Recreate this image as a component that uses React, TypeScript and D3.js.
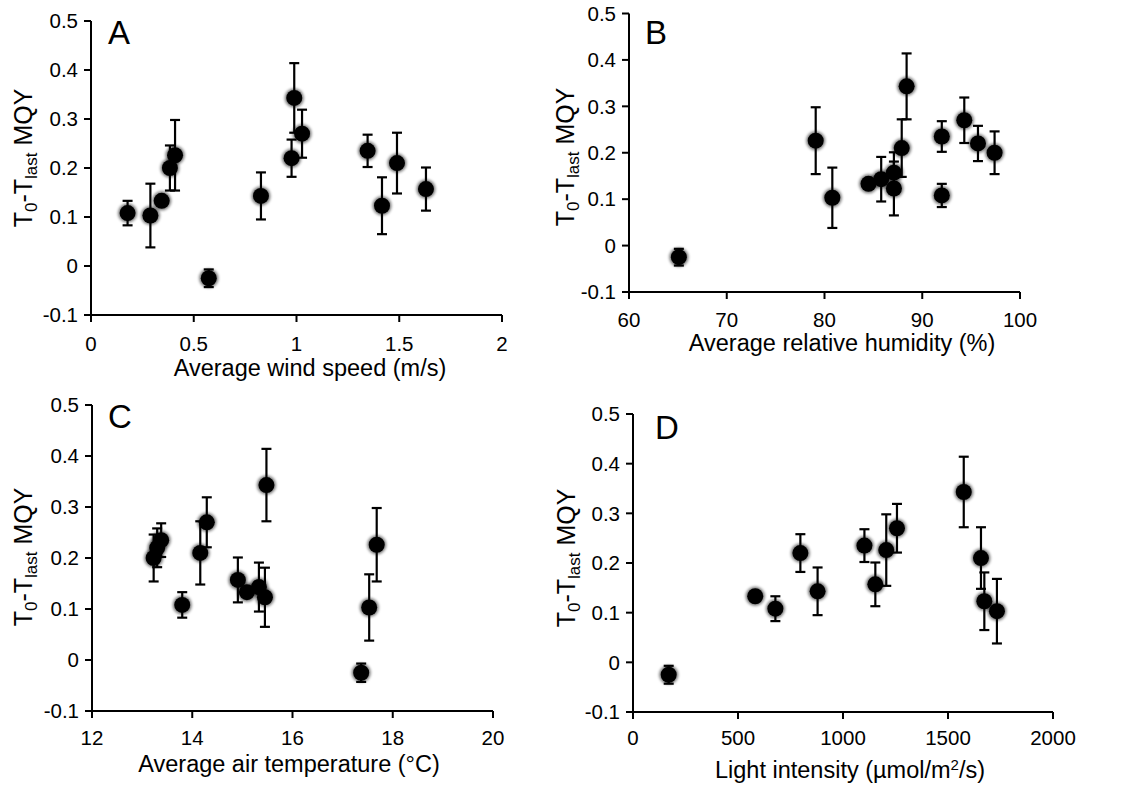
import * as d3 from "d3";

// T0 - Tlast MQY per site, with its error (shared by all four panels)
const mqy = [0.108, 0.103, 0.133, 0.2, 0.226, -0.025, 0.143, 0.343, 0.22, 0.27, 0.235, 0.123, 0.21, 0.157];
const mqyErr = [0.025, 0.065, 0.008, 0.046, 0.072, 0.018, 0.048, 0.071, 0.038, 0.049, 0.033, 0.058, 0.062, 0.044];

// environmental variables for the same sites
const windSpeed = [0.178, 0.289, 0.344, 0.384, 0.409, 0.573, 0.827, 0.989, 0.976, 1.027, 1.346, 1.416, 1.489, 1.63];
const humidity = [92.0, 80.8, 84.5, 97.4, 79.1, 65.1, 85.8, 88.4, 95.7, 94.3, 92.0, 87.1, 87.9, 87.1];
const airTemp = [13.8, 17.53, 15.09, 13.23, 17.68, 17.37, 15.33, 15.48, 13.3, 14.29, 13.38, 15.45, 14.16, 14.91];
const lightIntensity: (number | null)[] = [678, 1733, 582, null, 1206, 170, 879, 1575, 797, 1257, 1102, 1673, 1657, 1154];

const yTicks = [-0.1, 0, 0.1, 0.2, 0.3, 0.4, 0.5];
const yTickLabels = ["-0.1", "0", "0.1", "0.2", "0.3", "0.4", "0.5"];
const windTicks = [0, 0.5, 1, 1.5, 2];
const humidityTicks = [60, 70, 80, 90, 100];
const tempTicks = [12, 14, 16, 18, 20];
const lightTicks = [0, 500, 1000, 1500, 2000];

const FONT = "'Liberation Sans', Arial, Helvetica, sans-serif";

type PanelProps = {
  letter: string;
  xs: (number | null)[];
  xDomain: [number, number];
  xTicks: number[];
  title: React.ReactNode;
  box: { left: number; right: number; top: number; bottom: number };
  titleX: number;
  titleDy: number;
  tickDy: number;
  yTitleX: number;
  yTitleY: number;
  letterX: number;
  letterY: number;
};

function Panel(p: PanelProps) {
  const { box } = p;
  const x = d3.scaleLinear().domain(p.xDomain).range([box.left, box.right]);
  const y = d3.scaleLinear().domain([-0.1, 0.5]).range([box.bottom, box.top]);
  const pts = p.xs
    .map((v, i) => ({ x: v, y: mqy[i], e: mqyErr[i] }))
    .filter((d) => d.x !== null) as { x: number; y: number; e: number }[];

  return (
    <g>
      {/* axes */}
      <line x1={box.left} x2={box.left} y1={box.top} y2={box.bottom + 1} stroke="#000" strokeWidth={2} />
      <line x1={box.left - 1} x2={box.right} y1={box.bottom} y2={box.bottom} stroke="#000" strokeWidth={2} />
      {yTicks.map((t, i) => (
        <g key={"y" + i}>
          <line x1={box.left - 7} x2={box.left} y1={y(t)} y2={y(t)} stroke="#000" strokeWidth={2} />
          <text x={box.left - 13} y={y(t)} dy="0.35em" textAnchor="end" fontSize={20.5} fontFamily={FONT}>
            {yTickLabels[i]}
          </text>
        </g>
      ))}
      {p.xTicks.map((t) => (
        <g key={"x" + t}>
          <line x1={x(t)} x2={x(t)} y1={box.bottom} y2={box.bottom + 7} stroke="#000" strokeWidth={2} />
          <text x={x(t)} y={box.bottom + p.tickDy} textAnchor="middle" fontSize={20.5} fontFamily={FONT}>
            {t}
          </text>
        </g>
      ))}
      <text x={p.titleX} y={box.bottom + p.titleDy} textAnchor="middle" fontSize={23.5} fontFamily={FONT}>
        {p.title}
      </text>
      <text
        transform={`translate(${p.yTitleX},${p.yTitleY}) rotate(-90)`}
        textAnchor="middle"
        fontSize={25}
        fontFamily={FONT}
      >
        T<tspan fontSize={17} dy={5}>0</tspan>
        <tspan dy={-5}>-T</tspan>
        <tspan fontSize={17} dy={5}>last</tspan>
        <tspan dy={-5}> MQY</tspan>
      </text>
      <text x={p.letterX} y={p.letterY} fontSize={33} fontFamily={FONT}>
        {p.letter}
      </text>
      {/* markers */}
      {pts.map((d, i) => (
        <g key={"m" + i}>
          <circle cx={x(d.x)} cy={y(d.y)} r={9.5} fill="#000" opacity={0.55} filter="url(#soft)" />
          <circle cx={x(d.x)} cy={y(d.y)} r={8} fill="#000" />
        </g>
      ))}
      {/* error bars */}
      {pts.map((d, i) => (
        <g key={"e" + i} stroke="#000" strokeWidth={2.2}>
          <line x1={x(d.x)} x2={x(d.x)} y1={y(d.y + d.e)} y2={y(d.y - d.e)} />
          <line x1={x(d.x) - 5} x2={x(d.x) + 5} y1={y(d.y + d.e)} y2={y(d.y + d.e)} />
          <line x1={x(d.x) - 5} x2={x(d.x) + 5} y1={y(d.y - d.e)} y2={y(d.y - d.e)} />
        </g>
      ))}
    </g>
  );
}

export default function App() {
  return (
    <svg
      width={1146}
      height={789}
      style={{ position: "absolute", left: 0, top: 0, background: "#fff" }}
    >
      <defs>
        <filter id="soft" x="-50%" y="-50%" width="200%" height="200%">
          <feGaussianBlur stdDeviation={1.6} />
        </filter>
      </defs>
      <Panel
        letter="A"
        xs={windSpeed}
        xDomain={[0, 2]}
        xTicks={windTicks}
        title="Average wind speed (m/s)"
        box={{ left: 91, right: 502, top: 21, bottom: 315 }}
        titleX={310}
        titleDy={61}
        tickDy={36}
        yTitleX={32}
        yTitleY={158}
        letterX={108}
        letterY={44}
      />
      <Panel
        letter="B"
        xs={humidity}
        xDomain={[60, 100]}
        xTicks={humidityTicks}
        title="Average relative humidity (%)"
        box={{ left: 629, right: 1020, top: 13.5, bottom: 292 }}
        titleX={842}
        titleDy={59}
        tickDy={35}
        yTitleX={574}
        yTitleY={157}
        letterX={645}
        letterY={44}
      />
      <Panel
        letter="C"
        xs={airTemp}
        xDomain={[12, 20]}
        xTicks={tempTicks}
        title="Average air temperature (°C)"
        box={{ left: 92, right: 493, top: 405, bottom: 711 }}
        titleX={289}
        titleDy={61}
        tickDy={34}
        yTitleX={32}
        yTitleY={557}
        letterX={108}
        letterY={428}
      />
      <Panel
        letter="D"
        xs={lightIntensity}
        xDomain={[0, 2000]}
        xTicks={lightTicks}
        title={
          <>
            Light intensity (µmol/m<tspan fontSize={15} dy={-8}>2</tspan>
            <tspan dy={8}>/s)</tspan>
          </>
        }
        box={{ left: 633, right: 1053, top: 414, bottom: 712 }}
        titleX={850}
        titleDy={66}
        tickDy={33}
        yTitleX={575}
        yTitleY={558}
        letterX={655}
        letterY={439}
      />
    </svg>
  );
}
